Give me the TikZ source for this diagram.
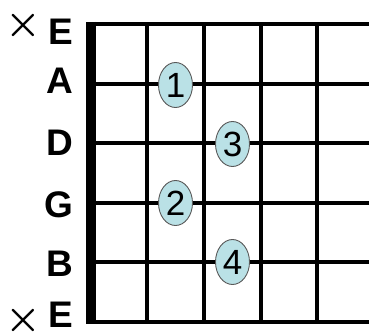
\documentclass[tikz,border=0pt]{standalone}
\usepackage{fontspec}
\setmainfont{Liberation Sans}
\usetikzlibrary{shapes.geometric}
\definecolor{fingerblue}{RGB}{186,225,230}
\begin{document}
\begin{tikzpicture}[x=1pt,y=-1pt,
  string/.style={line width=4pt},
  finger/.style={ellipse, draw=black!65, line width=0.9pt, fill=fingerblue,
    minimum width=34pt, minimum height=45pt, inner sep=0pt,
    font=\fontsize{35}{35}\selectfont},
  strname/.style={anchor=east, inner sep=0pt, font=\fontsize{37}{37}\selectfont\bfseries},
  mute/.style={inner sep=0pt, scale=4, font=\boldmath}]
  \useasboundingbox (0,0) rectangle (369,334);
  \begin{scope}
    \clip (0,0) rectangle (369,334);
    % strings and frets
    \foreach \y in {24,83.6,143.2,202.8,262.4,322}
      \draw[string] (91,\y) -- (380,\y);
    \foreach \x in {147,204,261,317}
      \draw[string] (\x,24) -- (\x,322);
    % nut
    \draw[line width=10pt] (91,22) -- (91,324);
  \end{scope}
  % string names
  \node[strname] (lowE) at (73,32) {E};
  \node[strname] (strA) at (73,81) {A};
  \node[strname] (strD) at (73,143) {D};
  \node[strname] (strG) at (73,205) {G};
  \node[strname] (strB) at (73,264) {B};
  \node[strname] (highE) at (73,315) {E};
  \node[mute] (muteLow) at (23,25.5) {$\times$};
  \node[mute] (muteHigh) at (23,320) {$\times$};
  % fingers
  \node[finger] (one) at (175.5,85) {1};
  \node[finger] (three) at (232.5,144) {3};
  \node[finger] (two) at (175.5,203) {2};
  \node[finger] (four) at (232.5,262) {4};
\end{tikzpicture}
\end{document}
